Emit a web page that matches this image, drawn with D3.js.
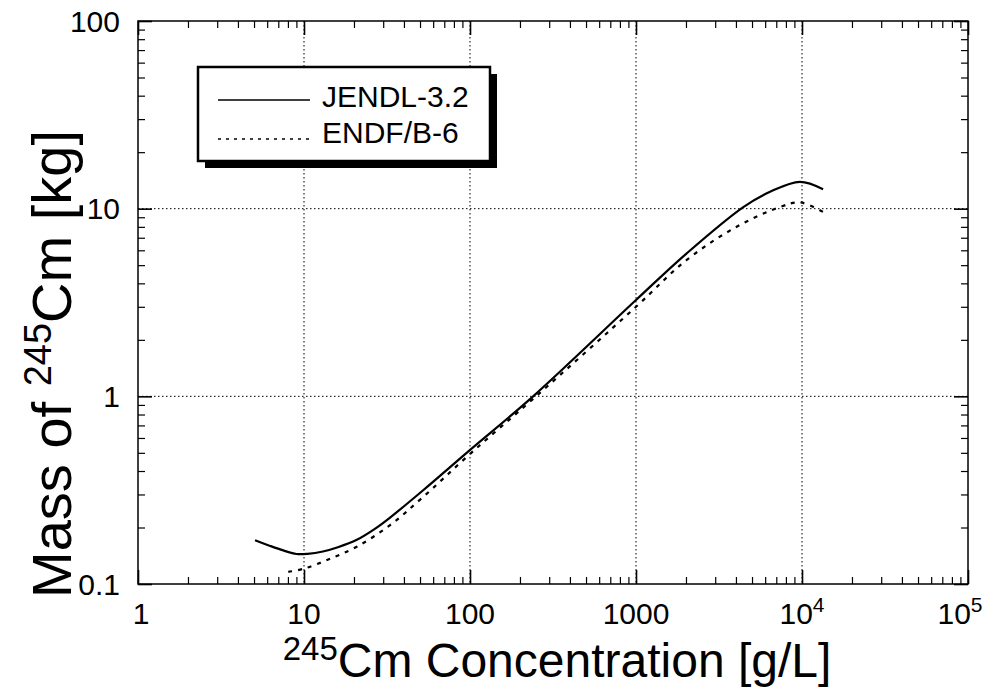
<!DOCTYPE html>
<html><head><meta charset="utf-8">
<script src="https://cdn.jsdelivr.net/npm/d3@7"></script>
<style>body{margin:0;background:#fff}</style>
</head><body>
<svg id="c" width="1002" height="689"></svg>
<script>
// Data (concentration g/L, mass kg)
const jendlX = [5.07, 6.2, 7.5, 9, 10.5, 13, 16, 20.8, 27, 33, 52, 101, 240, 1000, 2020, 4430, 6420, 9720, 13400];
const jendlY = [0.171, 0.160, 0.151, 0.1445, 0.1448, 0.149, 0.157, 0.172, 0.198, 0.226, 0.315, 0.522, 1.0, 3.26, 5.78, 10.2, 12.3, 13.9, 12.7];
const endfX = [8.04, 10.1, 14, 20.8, 33, 52, 101, 250, 1000, 2020, 4040, 7370, 9720, 13400];
const endfY = [0.116, 0.121, 0.135, 0.158, 0.206, 0.290, 0.497, 1.0, 3.0, 5.33, 8.01, 10.2, 10.8, 9.6];
const xTickVals = [1, 10, 100, 1000, 10000, 100000];
const xTickLabels = [["1",""],["10",""],["100",""],["1000",""],["10","4"],["10","5"]];
const yTickVals = [0.1, 1, 10, 100];
const yTickLabels = ["0.1","1","10","100"];
const legendNames = ["JENDL-3.2","ENDF/B-6"];

const svg = d3.select("#c");
const L = 138, T = 21, W = 830, H = 563;
const x = d3.scaleLog().domain([1, 1e5]).range([L, L+W]);
const y = d3.scaleLog().domain([0.1, 100]).range([T+H, T]);
const font = "Liberation Sans, Arial, Helvetica, sans-serif";

// grid
const g = svg.append("g");
xTickVals.slice(1,-1).forEach(v => g.append("line").attr("x1",x(v)).attr("x2",x(v)).attr("y1",T).attr("y2",T+H)
  .attr("stroke","#000").attr("stroke-width",1).attr("stroke-dasharray","1.5,2.5"));
yTickVals.slice(1,-1).forEach(v => g.append("line").attr("y1",y(v)).attr("y2",y(v)).attr("x1",L).attr("x2",L+W)
  .attr("stroke","#000").attr("stroke-width",1).attr("stroke-dasharray","1.5,2.5"));

// axes with inward ticks
const minorX = [], minorY = [];
for (let d = 1; d < 1e5; d *= 10) for (let k = 2; k < 10; k++) minorX.push(d*k);
for (let d = 0.1; d < 100; d *= 10) for (let k = 2; k < 10; k++) minorY.push(+(d*k).toPrecision(3));
function addAxis(axisGen, tr, ticks, size) {
  const a = svg.append("g").attr("transform", tr)
    .call(axisGen.tickValues(ticks).tickSize(size).tickFormat(""));
  a.select(".domain").remove();
  a.selectAll("line").attr("stroke","#000").attr("stroke-width", size > 10 ? 1.6 : 1.2);
}
addAxis(d3.axisTop(x), `translate(0,${T+H})`, minorX, 7);
addAxis(d3.axisTop(x), `translate(0,${T+H})`, xTickVals, 14);
addAxis(d3.axisBottom(x), `translate(0,${T})`, minorX, 7);
addAxis(d3.axisBottom(x), `translate(0,${T})`, xTickVals, 14);
addAxis(d3.axisRight(y), `translate(${L},0)`, minorY, 7);
addAxis(d3.axisRight(y), `translate(${L},0)`, yTickVals, 14);
addAxis(d3.axisLeft(y), `translate(${L+W},0)`, minorY, 7);
addAxis(d3.axisLeft(y), `translate(${L+W},0)`, yTickVals, 14);
svg.append("rect").attr("x",L).attr("y",T).attr("width",W).attr("height",H)
  .attr("fill","none").attr("stroke","#000").attr("stroke-width",1.5);

// tick labels
xTickVals.forEach((v,i) => {
  const t = svg.append("text").attr("x", x(v) + (i===xTickVals.length-1 ? -8 : (i===0 ? 3 : 0))).attr("y", 624)
    .attr("text-anchor","middle").attr("font-family",font).attr("font-size",30).text(xTickLabels[i][0]);
  if (xTickLabels[i][1]) t.append("tspan").attr("dy",-12).attr("font-size",21).text(xTickLabels[i][1]);
});
yTickVals.forEach((v,i) => {
  svg.append("text").attr("x",120).attr("y", y(v)).attr("dy","0.36em").attr("text-anchor","end")
    .attr("font-family",font).attr("font-size",30).text(yTickLabels[i]);
});

// axis titles
const xt = svg.append("text").attr("x",557).attr("y",677).attr("text-anchor","middle")
  .attr("font-family",font).attr("font-size",48);
xt.append("tspan").attr("font-size",33).attr("dy",-17).text("245");
xt.append("tspan").attr("dy",17).text("Cm Concentration [g/L]");
const yt = svg.append("text").attr("transform","translate(71,364) rotate(-90)").attr("text-anchor","middle")
  .attr("font-family",font).attr("font-size",56);
yt.append("tspan").text("Mass of ");
yt.append("tspan").attr("font-size",38).attr("dy",-20).text("245");
yt.append("tspan").attr("dy",20).text("Cm  [kg]");

// curves
const line = d3.line().x(d=>x(d[0])).y(d=>y(d[1])).curve(d3.curveCatmullRom);
svg.append("path").datum(jendlX.map((v,i)=>[v,jendlY[i]])).attr("d",line)
  .attr("fill","none").attr("stroke","#000").attr("stroke-width",2.2);
svg.append("path").datum(endfX.map((v,i)=>[v,endfY[i]])).attr("d",line)
  .attr("fill","none").attr("stroke","#000").attr("stroke-width",2.2).attr("stroke-dasharray","4,6");

// legend
const lg = svg.append("g");
lg.append("rect").attr("x",205).attr("y",74).attr("width",292).attr("height",94).attr("fill","#000");
lg.append("rect").attr("x",198).attr("y",67).attr("width",292).attr("height",94).attr("fill","#fff")
  .attr("stroke","#000").attr("stroke-width",2.5);
[0,1].forEach(i => {
  const yy = 100 + i*39;
  lg.append("line").attr("x1",218).attr("x2",310).attr("y1",yy).attr("y2",yy).attr("stroke","#000")
    .attr("stroke-width", 1.6).attr("stroke-dasharray", i===0 ? null : "3,5");
  lg.append("text").attr("x",322).attr("y",107 + i*36).attr("font-family",font)
    .attr("font-size",30).text(legendNames[i]);
});
</script>
</body></html>
